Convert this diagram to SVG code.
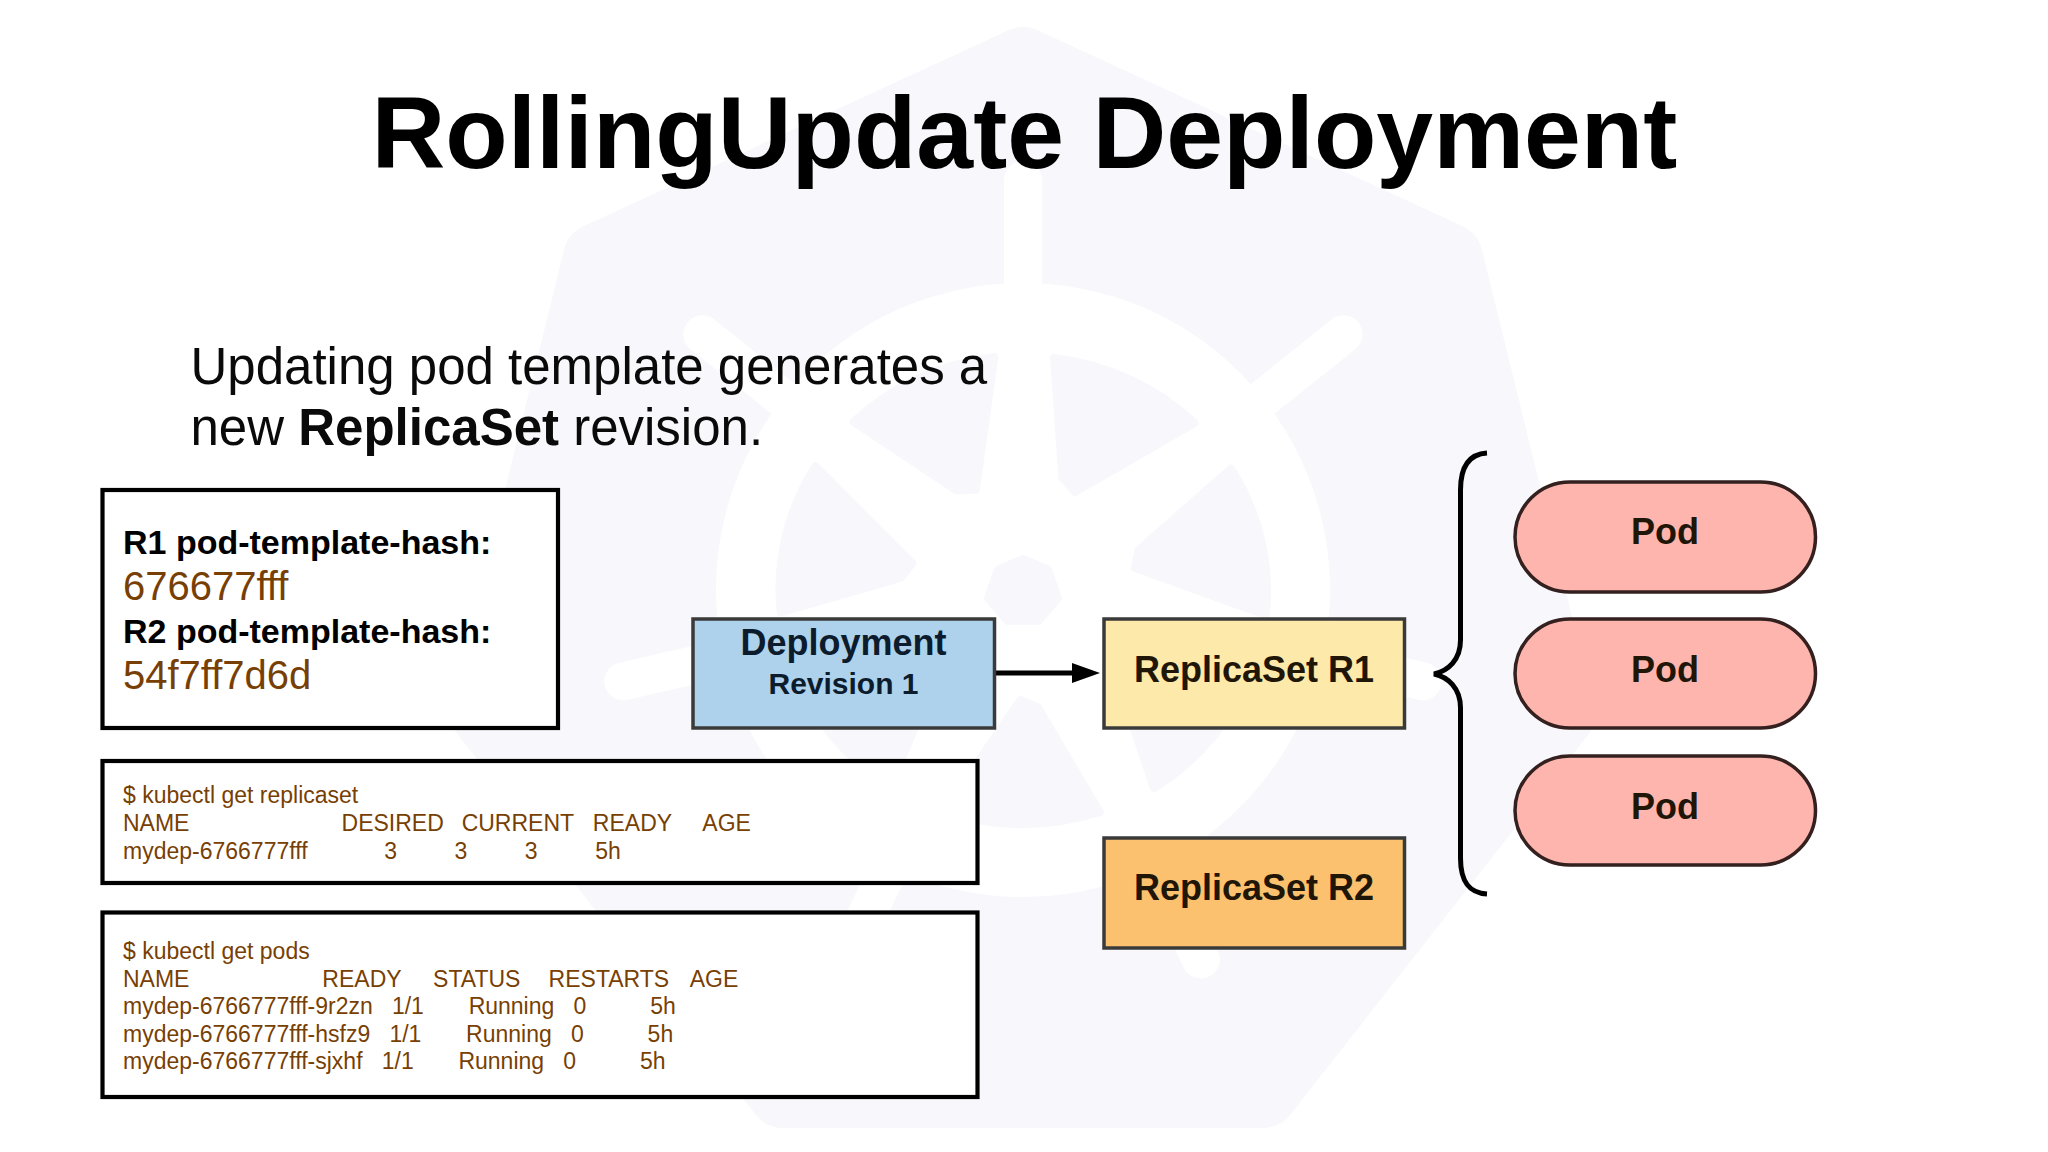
<svg xmlns="http://www.w3.org/2000/svg" xmlns:xlink="http://www.w3.org/1999/xlink" width="2048" height="1152" viewBox="0 0 2048 1152">
<style>
text{font-family:"Liberation Sans",Arial,sans-serif;white-space:pre}
.b{font-weight:700}
.frame{fill:#fff;stroke:#000;stroke-width:4.2}
.mono{font-size:23px;fill:#783f04}
.hash{font-size:34px;font-weight:700;fill:#000}
.val{font-size:40px;fill:#783f04}
.sub{font-size:51px;fill:#0a0a0a}
.node{stroke:#3a3a3a;stroke-width:3.5}
.pod{fill:#fdb5ad;stroke:#33201f;stroke-width:3.5}
.lab{font-size:36px;font-weight:700;text-anchor:middle;fill:#1f1608}
.pale{fill:#f8f8fc}
.wh{stroke:#fff;stroke-width:38;stroke-linecap:round}
</style>
<defs>
<marker id="arrow" markerUnits="userSpaceOnUse" markerWidth="30" markerHeight="24" refX="8" refY="12" orient="auto">
<path d="M0 2L28 12L0 22Z" fill="#000"/>
</marker>
<path id="wedge" class="pale" stroke="#f8f8fc" stroke-width="8" stroke-linejoin="round" d="M30-232A235 235 0 0 1 165-167L50-98L38-112Z"/>
<line id="spoke" class="wh" x1="0" y1="0" x2="0" y2="-410"/>
</defs>
<rect width="2048" height="1152" fill="#fff"/>
<g id="watermark">
<path class="pale" stroke="#f8f8fc" stroke-width="70" stroke-linejoin="round" d="M1023 62L1448 258L1560 714L1263 1093L783 1093L486 714L598 258Z"/>
<g transform="translate(1023 590)">
<circle r="307" fill="#fff"/>
<use xlink:href="#spoke"/>
<use xlink:href="#spoke" transform="rotate(51.43)"/>
<use xlink:href="#spoke" transform="rotate(102.86)"/>
<use xlink:href="#spoke" transform="rotate(154.29)"/>
<use xlink:href="#spoke" transform="rotate(205.71)"/>
<use xlink:href="#spoke" transform="rotate(257.14)"/>
<use xlink:href="#spoke" transform="rotate(308.57)"/>
<g transform="scale(1.04 1)">
<use xlink:href="#wedge"/>
<use xlink:href="#wedge" transform="rotate(51.43)"/>
<use xlink:href="#wedge" transform="rotate(102.86)"/>
<use xlink:href="#wedge" transform="rotate(154.29)"/>
<use xlink:href="#wedge" transform="rotate(205.71)"/>
<use xlink:href="#wedge" transform="rotate(257.14)"/>
<use xlink:href="#wedge" transform="rotate(308.57)"/>
</g>
<path class="pale" stroke="#f8f8fc" stroke-width="10" stroke-linejoin="round" d="M0-30L24-20L34 8L15 30L-15 30L-34 8L-24-20Z"/>
</g>
</g>
<text id="title" class="b" x="371.500" y="167.500" font-size="102.200" fill="#000">RollingUpdate Deployment</text>
<g id="subtitle">
<text class="sub" x="190.500" y="384">Updating pod template generates a</text>
<text class="sub" x="190.500" y="445">new <tspan class="b">ReplicaSet</tspan> revision.</text>
</g>
<g id="hash-box">
<rect class="frame" x="102.500" y="490" width="455.500" height="238"/>
<text class="hash" x="123" y="553.500">R1 pod-template-hash:</text>
<text class="val" x="123" y="600">676677fff</text>
<text class="hash" x="123" y="642.500">R2 pod-template-hash:</text>
<text class="val" x="123" y="689">54f7ff7d6d</text>
</g>
<g id="replicaset-box">
<rect class="frame" x="102.500" y="761" width="875" height="122"/>
<text class="mono" x="123" y="802.500">$ kubectl get replicaset</text>
<text class="mono" x="123" y="831">NAME                        <tspan dx="-1.300">DESIRED</tspan>   <tspan dx="-1.300">CURRENT</tspan>   READY     AGE</text>
<text class="mono" x="123" y="858.500">mydep-6766777fff            3         3         3         5h</text>
</g>
<g id="pods-box">
<rect class="frame" x="102.500" y="912.500" width="875" height="184.500"/>
<text class="mono" x="123" y="959">$ kubectl get pods</text>
<text class="mono" x="123" y="986.500">NAME                     <tspan dx="-1.300">READY</tspan>     STATUS    <tspan dx="2.600">RESTARTS</tspan>   <tspan dx="2.600">AGE</tspan></text>
<text class="mono" x="123" y="1014">mydep-6766777fff-9r2zn   1/1       Running   0          5h</text>
<text class="mono" x="123" y="1041.500">mydep-6766777fff-hsfz9   1/1       Running   0          5h</text>
<text class="mono" x="123" y="1069">mydep-6766777fff-sjxhf   1/1       Running   0          5h</text>
</g>
<g id="connectors">
<line x1="994" y1="673" x2="1080" y2="673" stroke="#000" stroke-width="5" marker-end="url(#arrow)"/>
<path d="M1487 453C1470 454 1460.500 465 1460.500 490L1460.500 640C1460.500 660 1448 671 1434 674C1448 677 1460.500 688 1460.500 708L1460.500 858C1460.500 883 1470 893 1487 894" fill="none" stroke="#000" stroke-width="5"/>
</g>
<g id="deployment">
<rect class="node" x="693" y="619" width="301.500" height="109" fill="#aed2ec"/>
<text class="lab" x="843.500" y="655" style="fill:#0c1c2c">Deployment</text>
<text class="lab" x="843.500" y="694" style="font-size:30px;fill:#0c1c2c">Revision 1</text>
</g>
<g id="replicaset-r1">
<rect class="node" x="1104" y="619" width="300.500" height="109" fill="#fde9a9"/>
<text class="lab" x="1254" y="682">ReplicaSet R1</text>
</g>
<g id="replicaset-r2">
<rect class="node" x="1104" y="838" width="300.500" height="110" fill="#fbc16e"/>
<text class="lab" x="1254" y="900">ReplicaSet R2</text>
</g>
<g id="pod-1">
<rect class="pod" x="1515" y="482" width="300.500" height="110" rx="55" ry="55"/>
<text class="lab" x="1665" y="544">Pod</text>
</g>
<g id="pod-2">
<rect class="pod" x="1515" y="619" width="300.500" height="109" rx="55" ry="55"/>
<text class="lab" x="1665" y="682">Pod</text>
</g>
<g id="pod-3">
<rect class="pod" x="1515" y="756" width="300.500" height="109" rx="55" ry="55"/>
<text class="lab" x="1665" y="819">Pod</text>
</g>
</svg>
